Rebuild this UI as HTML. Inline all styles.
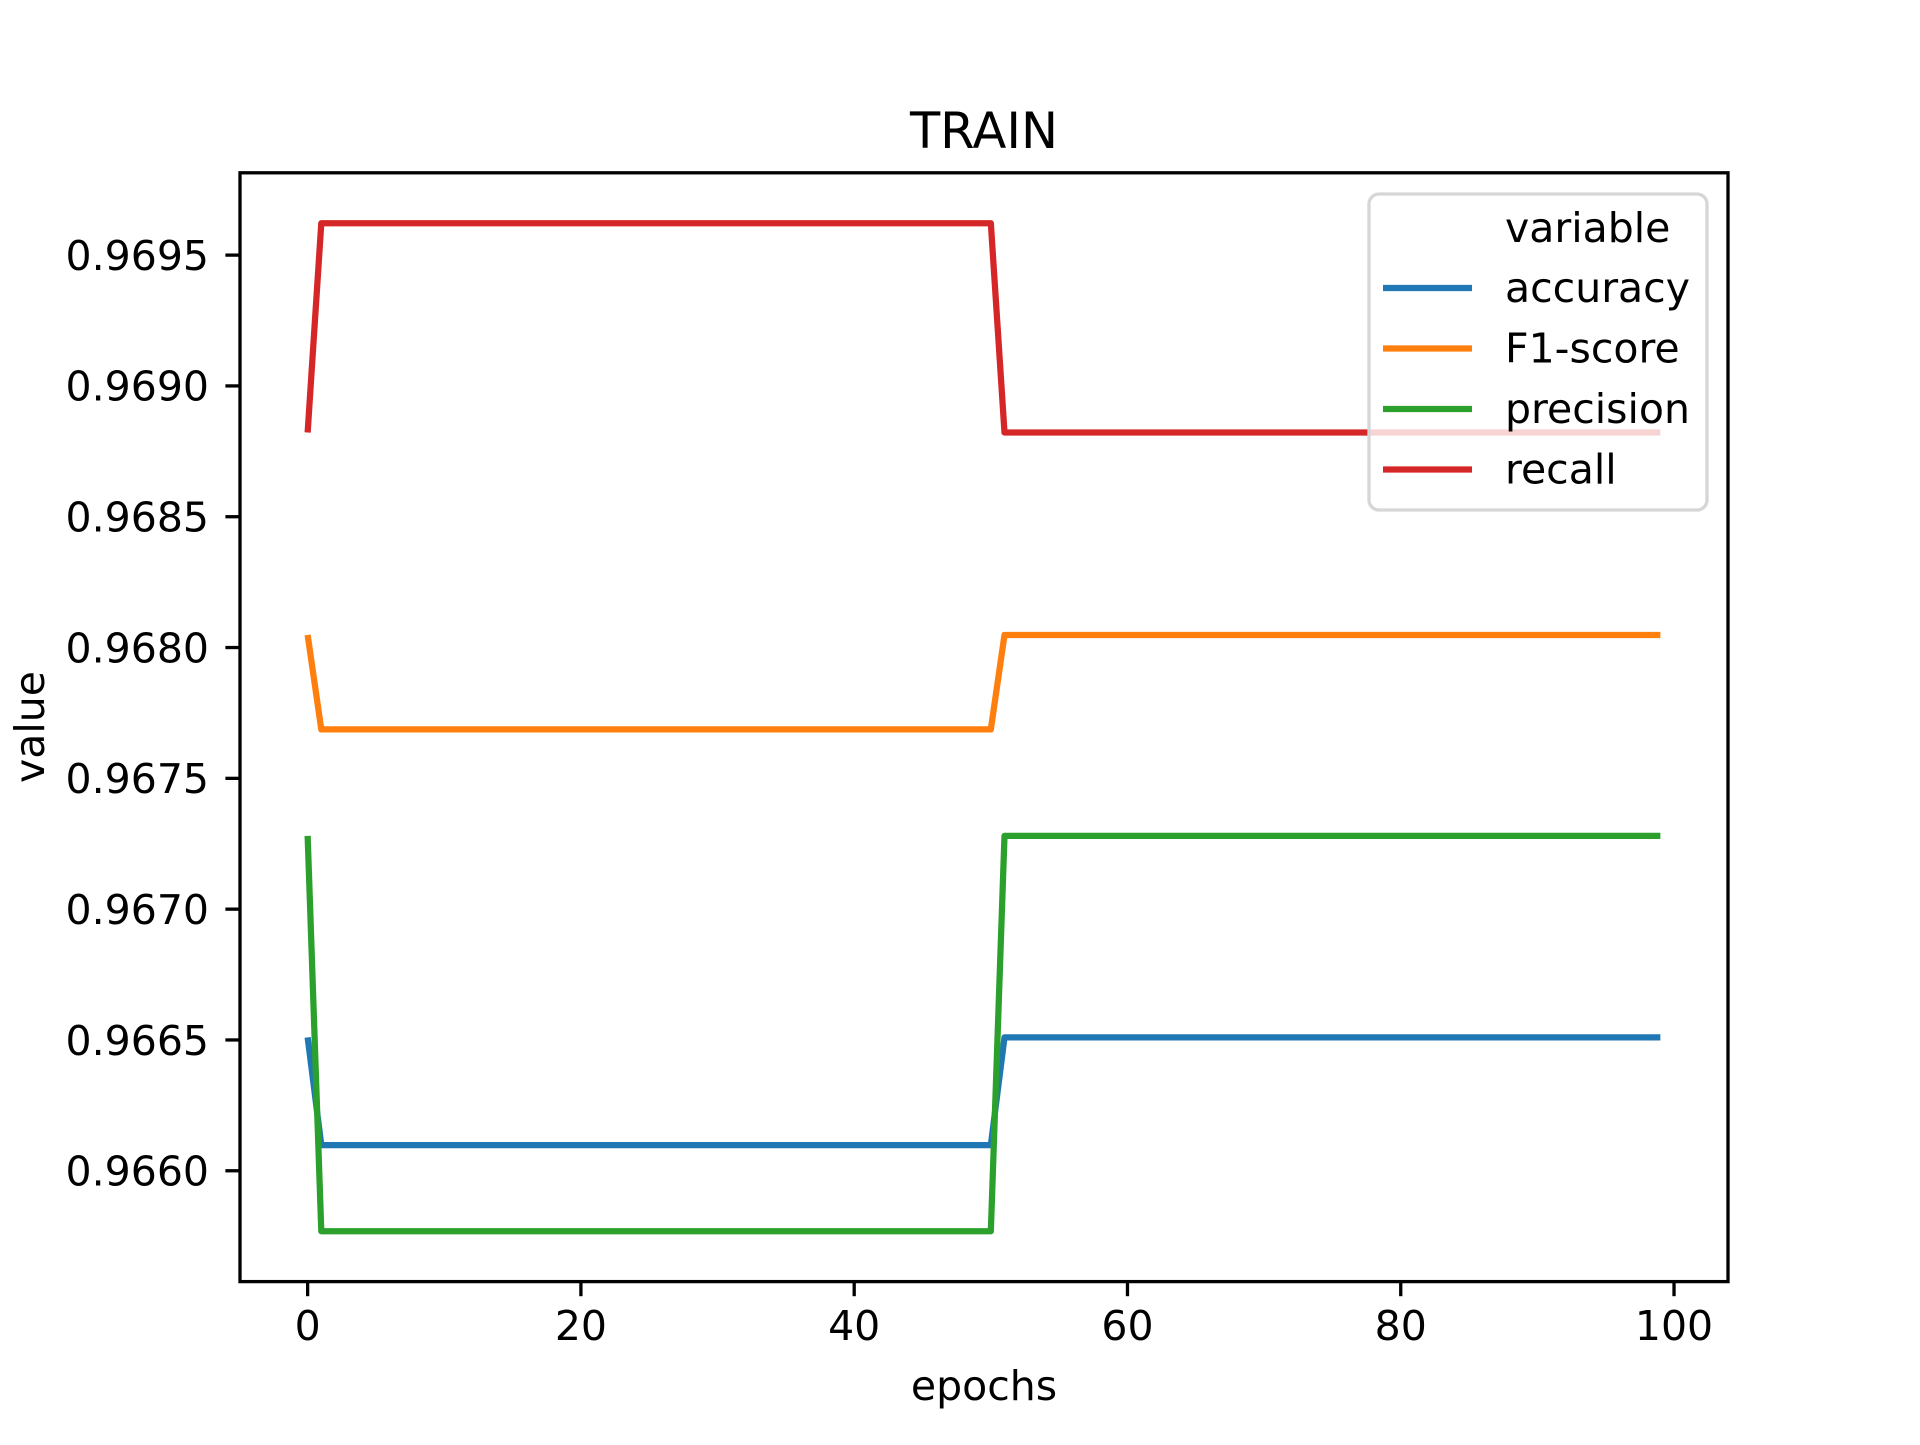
<!DOCTYPE html>
<html><head><meta charset="utf-8"><style>
html,body{margin:0;padding:0;background:#fff;}
svg text{font-family:"DejaVu Sans","Liberation Sans",sans-serif;fill:#000;}
</style></head><body>
<svg id="chart" width="1920" height="1440" viewBox="0 0 1920 1440" xmlns="http://www.w3.org/2000/svg">
<rect width="1920" height="1440" fill="#fff"/>
<g id="plot"></g>
<rect x="240" y="172.8" width="1488" height="1108.8" fill="none" stroke="#000" stroke-width="3.3"/>
<g id="ticks"></g>
<text x="984" y="148" font-size="49.5" text-anchor="middle">TRAIN</text>
<text x="984" y="1400" font-size="41" text-anchor="middle">epochs</text>
<text x="44" y="727" font-size="41" text-anchor="middle" transform="rotate(-90 44 727)">value</text>
<g id="legend">
<rect x="1369" y="194" width="338" height="316" rx="10" fill="#fff" fill-opacity="0.8" stroke="#d6d6d6" stroke-width="3.3"/>
<text x="1505" y="242" font-size="41">variable</text>
</g>
</svg>
<script>
const epochs = Array.from({length:100},(_,i)=>i);
const accuracyLevels = [0.96651, 0.966098];
const f1Levels = [0.968048, 0.967687];
const precisionLevels = [0.967280, 0.965769];
const recallLevels = [0.968822, 0.969622];
// series: value at epoch 0, epochs 1-50, epochs 51-99
const accuracy = epochs.map(e => e===0 ? accuracyLevels[0] : (e<=50 ? accuracyLevels[1] : accuracyLevels[0]));
const f1 = epochs.map(e => e===0 ? f1Levels[0] : (e<=50 ? f1Levels[1] : f1Levels[0]));
const precision = epochs.map(e => e===0 ? precisionLevels[0] : (e<=50 ? precisionLevels[1] : precisionLevels[0]));
const recall = epochs.map(e => e===0 ? recallLevels[0] : (e<=50 ? recallLevels[1] : recallLevels[0]));
const seriesNames = ["accuracy","F1-score","precision","recall"];
const seriesColors = ["#1f77b4","#ff7f0e","#2ca02c","#d62728"];
const xTicks = [0,20,40,60,80,100];
const yTicks = [0.9660,0.9665,0.9670,0.9675,0.9680,0.9685,0.9690,0.9695];

const X0=240,X1=1728,Y0=1281.6,Y1=172.8;
const allV=[...accuracy,...f1,...precision,...recall];
const vmin=Math.min(...allV), vmax=Math.max(...allV), vr=vmax-vmin;
const ymin=vmin-0.05*vr, ymax=vmax+0.05*vr;
const xmin=-0.05*99, xmax=99*1.05;
const sx=v=>X0+(v-xmin)/(xmax-xmin)*(X1-X0);
const sy=v=>Y0-(v-ymin)/(ymax-ymin)*(Y0-Y1);
const NS="http://www.w3.org/2000/svg";
const plot=document.getElementById('plot');
[accuracy,f1,precision,recall].forEach((s,i)=>{
  const p=document.createElementNS(NS,'polyline');
  p.setAttribute('points',s.map((v,j)=>sx(epochs[j])+','+sy(v)).join(' '));
  p.setAttribute('fill','none');p.setAttribute('stroke',seriesColors[i]);
  p.setAttribute('stroke-width','6.25');p.setAttribute('stroke-linejoin','round');
  
  
  plot.appendChild(p);
});
const ticks=document.getElementById('ticks');
xTicks.forEach(t=>{
  const x=sx(t);
  const l=document.createElementNS(NS,'line');
  l.setAttribute('x1',x);l.setAttribute('x2',x);l.setAttribute('y1',Y0);l.setAttribute('y2',Y0+14.6);
  l.setAttribute('stroke','#000');l.setAttribute('stroke-width','3.3');
  
  
  ticks.appendChild(l);
  const tx=document.createElementNS(NS,'text');
  tx.setAttribute('x',x);tx.setAttribute('y',1340);tx.setAttribute('font-size','41');tx.setAttribute('text-anchor','middle');
  tx.textContent=String(t);
  
  
  ticks.appendChild(tx);
});
yTicks.forEach(t=>{
  const y=sy(t);
  const l=document.createElementNS(NS,'line');
  l.setAttribute('x1',X0-14.6);l.setAttribute('x2',X0);l.setAttribute('y1',y);l.setAttribute('y2',y);
  l.setAttribute('stroke','#000');l.setAttribute('stroke-width','3.3');
  
  
  ticks.appendChild(l);
  const tx=document.createElementNS(NS,'text');
  tx.setAttribute('x',209);tx.setAttribute('y',y+14.8);tx.setAttribute('font-size','41');tx.setAttribute('text-anchor','end');
  tx.textContent=t.toFixed(4);
  
  
  ticks.appendChild(tx);
});
const lg=document.getElementById('legend');
seriesNames.forEach((n,i)=>{
  const yb=302+i*60.5;
  const l=document.createElementNS(NS,'line');
  l.setAttribute('x1',1383);l.setAttribute('x2',1472);l.setAttribute('y1',yb-14);l.setAttribute('y2',yb-14);
  l.setAttribute('stroke',seriesColors[i]);l.setAttribute('stroke-width','6.25');
  
  
  lg.appendChild(l);
  const tx=document.createElementNS(NS,'text');
  tx.setAttribute('x',1505);tx.setAttribute('y',yb);tx.setAttribute('font-size','41');
  tx.textContent=n;
  
  
  lg.appendChild(tx);
});
</script>
</body></html>
